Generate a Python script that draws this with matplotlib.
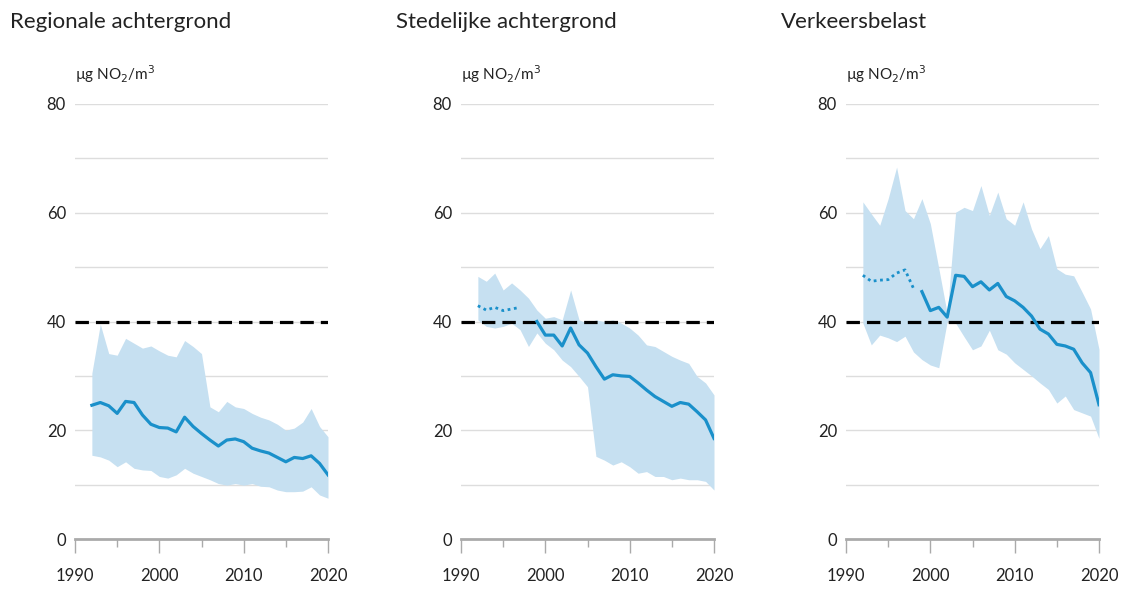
import numpy as np
import matplotlib.pyplot as plt

plt.rcParams['font.family'] = ['Lato', 'DejaVu Sans']

years = np.arange(1992, 2021)

# Regionale achtergrond
reg_med = [24.6, 25.1, 24.5, 23.1, 25.3, 25.1, 22.8, 21.1, 20.5, 20.4, 19.7, 22.4, 20.7, 19.4, 18.2,
           17.1, 18.2, 18.4, 17.9, 16.7, 16.2, 15.8, 15.0, 14.2, 15.0, 14.8, 15.3, 13.9, 11.8]
reg_hi = [30.5, 39.5, 34.1, 33.8, 36.9, 36.0, 35.1, 35.5, 34.6, 33.8, 33.5, 36.5, 35.4, 34.1, 24.3,
          23.4, 25.3, 24.3, 24.0, 23.1, 22.4, 21.9, 21.1, 20.0, 20.4, 21.5, 24.0, 20.7, 18.8]
reg_lo = [15.4, 15.1, 14.5, 13.3, 14.2, 13.0, 12.7, 12.6, 11.5, 11.2, 11.8, 13.0, 12.1, 11.5, 10.9,
          10.2, 9.9, 10.2, 9.9, 10.2, 9.7, 9.6, 9.0, 8.7, 8.7, 8.8, 9.6, 8.1, 7.5]

# Stedelijke achtergrond
sted_med = [42.9, 42.1, 42.6, 42.0, 42.3, 42.6, np.nan, 40.0, 37.5, 37.5, 35.5, 38.8, 35.7, 34.2, 31.7,
            29.4, 30.2, 30.0, 29.9, 28.7, 27.4, 26.2, 25.3, 24.4, 25.1, 24.8, 23.4, 21.9, 18.5]
sted_hi = [48.3, 47.4, 48.9, 45.8, 47.1, 45.8, 44.3, 42.1, 40.6, 40.9, 40.3, 45.8, 40.3, 39.7, 40.3,
           40.0, 40.3, 39.7, 38.8, 37.5, 35.7, 35.4, 34.5, 33.6, 32.9, 32.3, 29.9, 28.7, 26.5]
sted_lo = [40.3, 39.1, 38.8, 39.1, 39.7, 38.5, 35.4, 37.9, 36.0, 34.8, 32.9, 31.7, 29.9, 28.0, 15.2,
           14.5, 13.6, 14.2, 13.3, 12.1, 12.4, 11.5, 11.5, 10.9, 11.2, 10.9, 10.9, 10.6, 9.0]

# Verkeersbelast
verk_med = [48.5, 47.4, 47.6, 47.7, 48.9, 49.5, 46.1, 45.5, 42.0, 42.6, 40.8, 48.5, 48.3, 46.4, 47.3,
            45.8, 47.0, 44.6, 43.8, 42.6, 41.0, 38.6, 37.7, 35.8, 35.5, 34.9, 32.4, 30.6, 24.7]
verk_hi = [62.0, 59.8, 57.7, 62.6, 68.4, 60.4, 58.9, 62.6, 58.0, 49.8, 41.5, 60.1, 61.0, 60.4, 65.0,
           59.5, 63.8, 58.9, 57.7, 62.0, 57.0, 53.4, 55.8, 49.7, 48.7, 48.4, 45.4, 42.3, 34.9]
verk_lo = [39.7, 35.7, 37.5, 37.0, 36.3, 37.3, 34.4, 33.0, 32.0, 31.5, 40.0, 39.7, 37.2, 34.8, 35.5,
           38.4, 34.8, 34.0, 32.4, 31.2, 30.0, 28.7, 27.5, 25.0, 26.3, 23.8, 23.2, 22.6, 18.5]

# last year of the dotted (older) part of each median line
dotted_end = [None, 1997, 1998]

titles = ['Regionale achtergrond', 'Stedelijke achtergrond', 'Verkeersbelast']
panels = [(reg_med, reg_hi, reg_lo), (sted_med, sted_hi, sted_lo), (verk_med, verk_hi, verk_lo)]
norm = 40

band_col = '#c6e0f1'
line_col = '#1a90ca'

W, H = 1125, 590
fig = plt.figure(figsize=(W / 100, H / 100), dpi=100)

lefts = [75, 461, 846]
for i, (med, hi, lo) in enumerate(panels):
    ax = fig.add_axes([lefts[i] / W, 1 - 539 / H, 253 / W, (539 - 104) / H])
    med = np.array(med, dtype=float)
    ax.fill_between(years, lo, hi, color=band_col, lw=0, zorder=1)
    ax.axhline(norm, color='black', lw=2.3, dashes=(4.2, 2.2), zorder=2)
    if dotted_end[i] is None:
        ax.plot(years, med, color=line_col, lw=2.3, zorder=3)
    else:
        old = years <= dotted_end[i]
        ax.plot(years[old], med[old], color=line_col, lw=2.0, ls=(0, (1, 1.3)), zorder=3)
        new = years > dotted_end[i]
        ax.plot(years[new], med[new], color=line_col, lw=2.3, zorder=3)

    ax.set_xlim(1990, 2020)
    ax.set_ylim(0, 80)
    for y in range(10, 81, 10):
        ax.axhline(y, color='#dddddd', lw=1.0, zorder=0)
    for s in ['top', 'right', 'left']:
        ax.spines[s].set_visible(False)
    ax.spines['bottom'].set_color('#aaaaaa')
    ax.spines['bottom'].set_linewidth(2)
    ax.spines['bottom'].set_zorder(0.5)

    ax.set_xticks([1990, 2000, 2010, 2020])
    ax.set_xticks([1995, 2005, 2015], minor=True)
    ax.tick_params(axis='x', which='major', length=10, width=1, color='#aaaaaa',
                   labelsize=12, labelcolor='#222222', pad=11)
    ax.tick_params(axis='x', which='minor', length=6, width=1, color='#aaaaaa')
    ax.set_yticks([0, 20, 40, 60, 80])
    ax.tick_params(axis='y', length=0, labelsize=12, labelcolor='#222222', pad=6.5)

    fig.text((lefts[i] - 65) / W, 1 - 22 / H, titles[i], fontsize=16, color='#222222', va='center')
    ax.text(0.0, 80 + 5.5, 'µg NO$_2$/m$^3$', fontsize=11, color='#222222', va='center',
            transform=ax.get_yaxis_transform(), clip_on=False)

fig.savefig('out.png', dpi=100)
